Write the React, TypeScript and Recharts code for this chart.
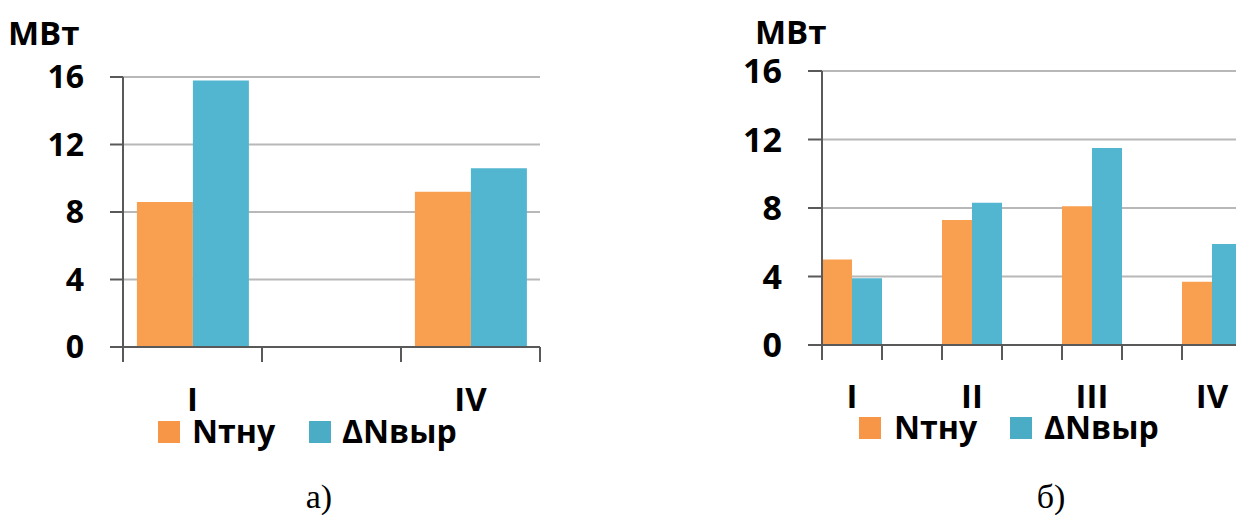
import React from 'react';
import { BarChart, Bar, XAxis, YAxis, CartesianGrid, Label } from 'recharts';

const seriesNames = ['Nтну', 'ΔNвыр'];
const barColors = ['#F99F50', '#53B6D1'];
const legendColors = ['#F79646', '#4BACC6'];
const yTicks = [0, 4, 8, 12, 16];
const unitLabel = 'МВт';

const categoriesA = ['I', '', 'IV'];
const nTnuA = [8.6, null, 9.2];
const dNvyrA = [15.8, null, 10.6];

const categoriesB = ['I', '', 'II', '', 'III', '', 'IV', ''];
const nTnuB = [5.0, null, 7.3, null, 8.1, null, 3.7, null];
const dNvyrB = [3.9, null, 8.3, null, 11.5, null, 5.9, null];

const captions = ['а)', 'б)'];

const FONT = '"Open Sans", sans-serif';
const SERIF = '"Liberation Serif", "Times New Roman", serif';
const AXIS = '#595959';
const GRID = '#B8B8B8';

function build(cats: string[], a: (number | null)[], b: (number | null)[]) {
  return cats.map((name, i) => ({ name, pos: i + 0.5, n: a[i], dn: b[i] }));
}

type PanelProps = {
  left: number;
  width: number;
  top: number;
  bottom: number;
  right: number;
  yWidth: number;
  cats: string[];
  a: (number | null)[];
  b: (number | null)[];
  gap: string | number;
  yFont: number;
  xFont: number;
  xMargin: number;
  yTickSize: number;
  titleX: number;
  titleY: number;
};

function Panel(p: PanelProps) {
  const data = build(p.cats, p.a, p.b);
  const gridTicks = [...p.cats.map((_, i) => i), p.cats.length];
  return (
    <div style={{ position: 'absolute', left: p.left, top: 0 }}>
      <BarChart
        width={p.width}
        height={515}
        data={data}
        margin={{ top: p.top, right: p.right, bottom: p.bottom, left: 0 }}
        barCategoryGap={p.gap}
        barGap={0}
      >
        <CartesianGrid xAxisId="bcat" yAxisId={0} vertical={false} stroke={GRID} strokeWidth={2} />
        <Bar xAxisId="bcat" yAxisId={0} dataKey="n" name={seriesNames[0]} fill={barColors[0]} isAnimationActive={false} />
        <Bar xAxisId="bcat" yAxisId={0} dataKey="dn" name={seriesNames[1]} fill={barColors[1]} isAnimationActive={false} />
        <XAxis
          xAxisId="bcat"
          type="category"
          dataKey="name"
          height={50}
          tickSize={0}
          tickMargin={p.xMargin}
          axisLine={false}
          tickLine={false}
          interval={0}
          tick={{ fill: '#000', fontSize: p.xFont, fontWeight: 700, fontFamily: FONT }}
        />
        <XAxis
          xAxisId="agrid"
          type="number"
          dataKey="pos"
          domain={[0, p.cats.length]}
          allowDataOverflow
          ticks={gridTicks}
          interval={0}
          height={15}
          tickSize={15}
          tickFormatter={() => ''}
          axisLine={{ stroke: AXIS, strokeWidth: 2 }}
          tickLine={{ stroke: AXIS, strokeWidth: 2 }}
        />
        <YAxis
          yAxisId={0}
          domain={[0, 16]}
          ticks={yTicks}
          interval={0}
          width={p.yWidth}
          tickSize={p.yTickSize}
          tickMargin={26}
          axisLine={{ stroke: AXIS, strokeWidth: 2 }}
          tickLine={{ stroke: AXIS, strokeWidth: 2 }}
          tick={{ fill: '#000', fontSize: p.yFont, fontWeight: 700, fontFamily: FONT }}
        >
          <Label
            content={() => (
              <text x={p.titleX} y={p.titleY} fill="#000" fontSize={33} fontWeight={700} fontFamily={FONT}>
                {unitLabel}
              </text>
            )}
          />
        </YAxis>
      </BarChart>
    </div>
  );
}

type LegendSpec = { sq: number[]; txt: number[]; y: number; size: number; base: number };

function LegendItems({ spec }: { spec: LegendSpec }) {
  return (
    <g>
      {seriesNames.map((name, i) => (
        <g key={name}>
          <rect x={spec.sq[i]} y={spec.y} width={spec.size} height={spec.size} fill={legendColors[i]} />
          <text x={spec.txt[i]} y={spec.base} fill="#000" fontSize={32} fontWeight={700} fontFamily={FONT}>
            {name}
          </text>
        </g>
      ))}
    </g>
  );
}

const legendA: LegendSpec = { sq: [158, 309], txt: [192, 342], y: 421, size: 22, base: 443 };
const legendB: LegendSpec = { sq: [859, 1010], txt: [894, 1044], y: 417, size: 22, base: 439 };

export default function App() {
  return (
    <div style={{ position: 'absolute', left: 0, top: 0, width: 1236, height: 515, overflow: 'hidden', background: '#fff' }}>
      <Panel
        left={0}
        width={560}
        top={77}
        bottom={103}
        right={20}
        yWidth={123}
        cats={categoriesA}
        a={nTnuA}
        b={dNvyrA}
        gap="10%"
        yFont={32}
        xFont={33}
        xMargin={26}
        yTickSize={13}
        titleX={8}
        titleY={45}
      />
      <Panel
        left={700}
        width={602}
        top={71}
        bottom={105}
        right={0}
        yWidth={122}
        cats={categoriesB}
        a={nTnuB}
        b={dNvyrB}
        gap={0}
        yFont={34}
        xFont={33}
        xMargin={25}
        yTickSize={14}
        titleX={55}
        titleY={44}
      />
      <svg width={1236} height={515} style={{ position: 'absolute', left: 0, top: 0, pointerEvents: 'none' }}>
        <LegendItems spec={legendA} />
        <LegendItems spec={legendB} />
        <text x={319} y={508} textAnchor="middle" fontSize={34} fontFamily={SERIF} fill="#000">{captions[0]}</text>
        <text x={1051} y={508} textAnchor="middle" fontSize={34} fontFamily={SERIF} fill="#000">{captions[1]}</text>
      </svg>
    </div>
  );
}
